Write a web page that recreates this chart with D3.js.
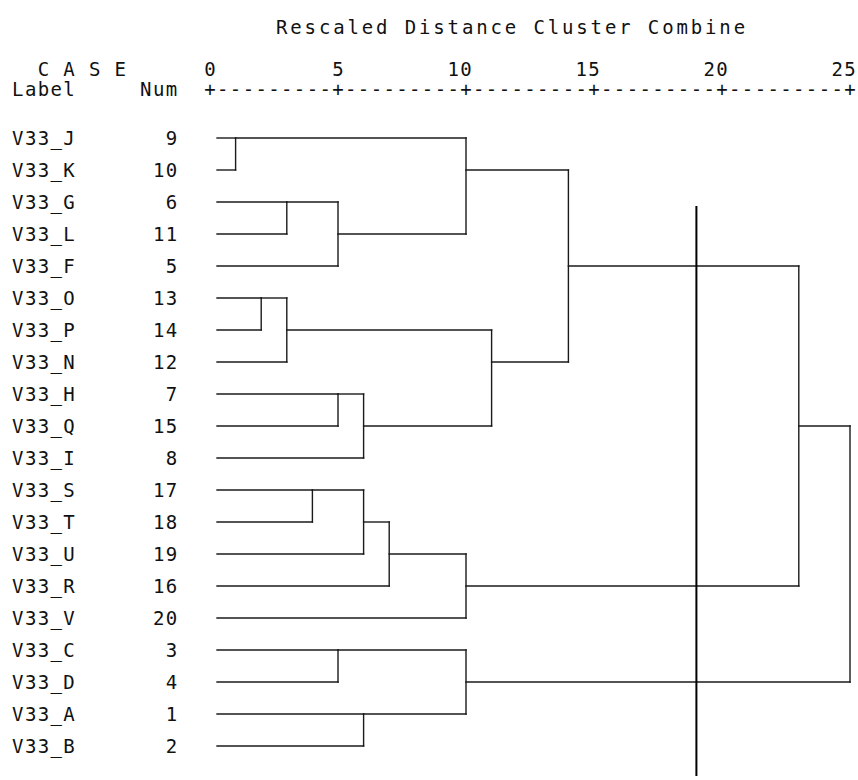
<!DOCTYPE html>
<html>
<head>
<meta charset="utf-8">
<script src="https://cdn.jsdelivr.net/npm/d3@7"></script>
<style>
  html, body { margin: 0; padding: 0; background: #fff; }
  svg { display: block; }
  text { font-family: "DejaVu Sans Mono", "Liberation Mono", monospace; fill: #111; }
</style>
</head>
<body>
<svg id="chart" width="858" height="780"></svg>
<script>
// Cases in dendrogram order
const caseLabels = ["V33_J","V33_K","V33_G","V33_L","V33_F","V33_O","V33_P","V33_N","V33_H","V33_Q",
                    "V33_I","V33_S","V33_T","V33_U","V33_R","V33_V","V33_C","V33_D","V33_A","V33_B"];
const caseNums = [9,10,6,11,5,13,14,12,7,15,8,17,18,19,16,20,3,4,1,2];

// Agglomeration steps: [left, right, rescaled distance]; "mN" refers to step N
const merges = [
  ["V33_J","V33_K",1],
  ["V33_G","V33_L",3],
  ["m1","V33_F",5],
  ["m0","m2",10],
  ["V33_O","V33_P",2],
  ["m4","V33_N",3],
  ["V33_H","V33_Q",5],
  ["m6","V33_I",6],
  ["m5","m7",11],
  ["m3","m8",14],
  ["V33_S","V33_T",4],
  ["m10","V33_U",6],
  ["m11","V33_R",7],
  ["m12","V33_V",10],
  ["V33_C","V33_D",5],
  ["V33_A","V33_B",6],
  ["m14","m15",10],
  ["m9","m13",23],
  ["m17","m16",25]
];

const axisTicks = [0,5,10,15,20,25];
const cutDistance = 19;
const titleText = "Rescaled Distance Cluster Combine";

// ---- layout ----
const svg = d3.select("#chart");
const FONT = 19, ADV = FONT * 0.602, CELL = 12.8, LS = CELL - ADV, ORIGIN = -1.4;
const colX = c => ORIGIN + c * CELL + (CELL - ADV) / 2;

const x = d3.scaleLinear().domain([0, 25]).range([210, 850]);
const y = d3.scaleLinear().domain([0, caseLabels.length - 1]).range([138, 746]);
const leafStart = x(0) + 7;

function gridText(str, left, base, opts = {}) {
  return svg.append("text")
    .attr("x", left).attr("y", base)
    .attr("font-size", opts.size || FONT)
    .attr("letter-spacing", opts.ls != null ? opts.ls : LS)
    .attr("xml:space", "preserve")
    .style("white-space", "pre")
    .text(str);
}

// Title
gridText(titleText, 276, 34, { size: 19, ls: 14.3 - 19 * 0.602 });

// Header
gridText("C A S E", colX(3), 76);
gridText("Label", colX(1), 96);
gridText("Num", colX(11), 96);

// Tick labels: last digit sits over the ruler's "+"
axisTicks.forEach(t => {
  const s = String(t);
  gridText(s, x(t) - (s.length - 1) * CELL - ADV / 2, 76);
});

// Ruler: "+" at each tick, "-" at every half unit in between
const rulerMarks = d3.range(0, 25.001, 0.5);
svg.append("g").selectAll("text").data(rulerMarks).join("text")
  .attr("x", d => x(d)).attr("y", 96)
  .attr("text-anchor", "middle")
  .attr("font-size", FONT)
  .text(d => axisTicks.includes(d) ? "+" : "-");

// Case labels and numbers
caseLabels.forEach((lab, i) => {
  const base = y(i) + 7;
  gridText(lab, colX(1), base);
  const n = String(caseNums[i]);
  gridText(n, colX(14 - n.length), base);
});

// ---- dendrogram ----
const nodes = {};
caseLabels.forEach((lab, i) => { nodes[lab] = { row: i, x: leafStart }; });

const segs = [];
merges.forEach(([a, b, d], k) => {
  const A = nodes[a], B = nodes[b], xd = x(d);
  segs.push([A.x, y(A.row), xd, y(A.row)]);
  segs.push([B.x, y(B.row), xd, y(B.row)]);
  const r0 = Math.min(A.row, B.row), r1 = Math.max(A.row, B.row);
  segs.push([xd, y(r0), xd, y(r1)]);
  nodes["m" + k] = { row: Math.floor((A.row + B.row) / 2), x: xd };
});

svg.append("g")
  .attr("stroke", "#1a1a1a").attr("stroke-width", 1.4).attr("fill", "none")
  .attr("stroke-linecap", "square")
  .selectAll("line").data(segs).join("line")
  .attr("x1", d => d[0]).attr("y1", d => d[1])
  .attr("x2", d => d[2]).attr("y2", d => d[3]);

// Cut line
svg.append("line")
  .attr("x1", x(cutDistance)).attr("x2", x(cutDistance))
  .attr("y1", 206).attr("y2", 776)
  .attr("stroke", "#000").attr("stroke-width", 2);
</script>
</body>
</html>
